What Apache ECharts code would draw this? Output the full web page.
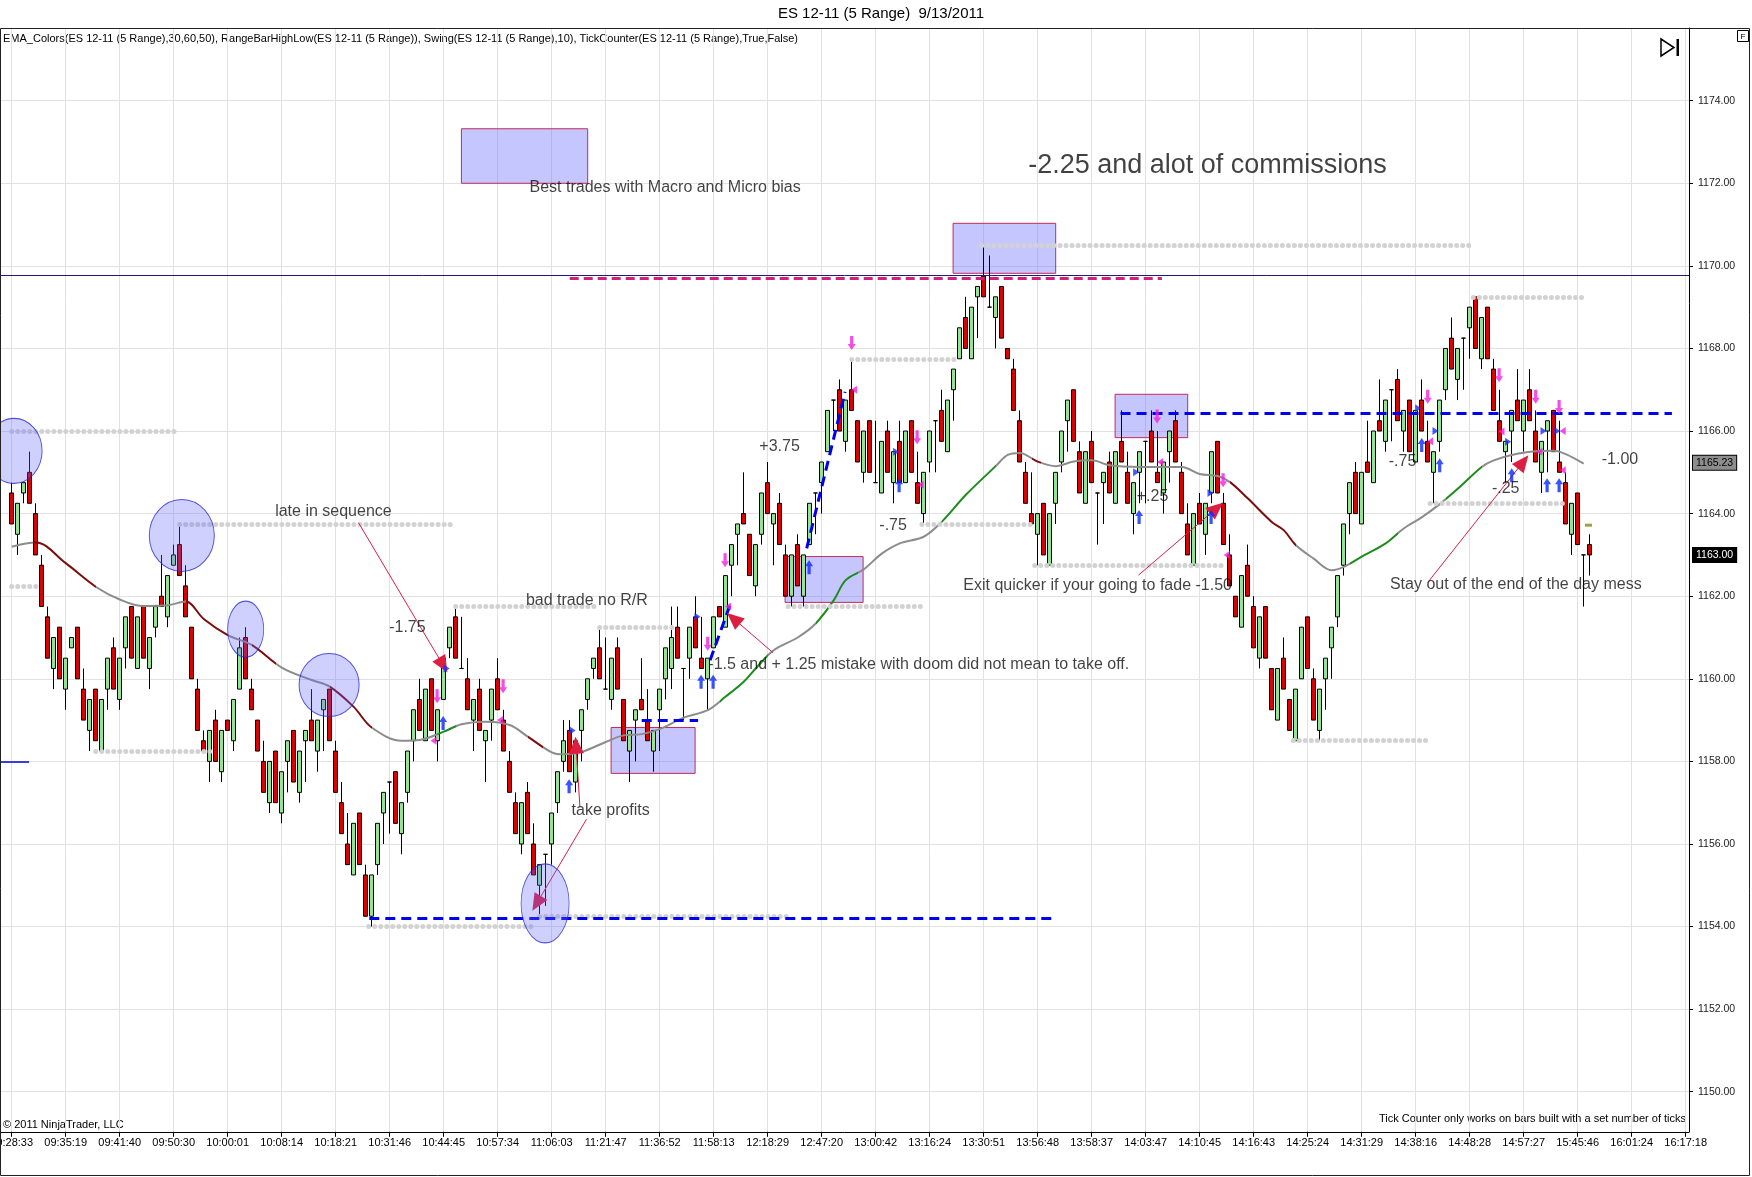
<!DOCTYPE html>
<html><head><meta charset="utf-8">
<script src="https://cdn.jsdelivr.net/npm/echarts/dist/echarts.min.js"></script>
<style>html,body{margin:0;padding:0;background:#fff}#c{width:1752px;height:1177px}</style>
</head><body><div id="c"></div>
<script>
const FONT = "'Liberation Sans', Arial, sans-serif";
const titleText = 'ES 12-11 (5 Range)  9/13/2011';
const indicatorText = 'EMA_Colors(ES 12-11 (5 Range),30,60,50), RangeBarHighLow(ES 12-11 (5 Range)), Swing(ES 12-11 (5 Range),10), TickCounter(ES 12-11 (5 Range),True,False)';
const timeLabels = ['09:28:33','09:35:19','09:41:40','09:50:30','10:00:01','10:08:14','10:18:21','10:31:46','10:44:45','10:57:34','11:06:03','11:21:47','11:36:52','11:58:13','12:18:29','12:47:20','13:00:42','13:16:24','13:30:51','13:56:48','13:58:37','14:03:47','14:10:45','14:16:43','14:25:24','14:31:29','14:38:16','14:48:28','14:57:27','15:45:46','16:01:24','16:17:18'];
const barsPerLabel = 9;
const priceTicks = [1150,1152,1154,1156,1158,1160,1162,1164,1166,1168,1170,1172,1174];

const opens = [
1164.5,1163.5,1164.5,1165.0,1164.0,1162.75,1161.5,1160.25,1161.25,1159.75,
1160.75,1161.25,1159.75,1158.75,1159.75,1158.25,1159.75,1160.75,1159.5,1160.75,
1161.75,1160.25,1161.75,1160.25,1161.25,1162.0,1161.5,1162.75,1163.25,1162.25,
1161.25,1159.75,1158.5,1158.0,1159.0,1157.75,1159.0,1158.5,1159.75,1161.0,
1159.75,1159.0,1158.0,1157.0,1158.25,1156.75,1158.0,1158.75,1157.25,1158.5,
1159.0,1158.25,1159.25,1159.75,1158.25,1157.0,1156.0,1155.25,1156.75,1155.25,
1154.25,1155.5,1156.75,1157.5,1157.75,1156.25,1157.25,1158.5,1159.5,1158.5,
1160.0,1158.5,1159.5,1160.75,1161.5,1160.25,1160.0,1159.0,1159.75,1158.5,
1159.0,1160.0,1159.0,1158.0,1157.0,1156.0,1157.25,1156.0,1155.0,1155.75,
1156.0,1157.0,1158.0,1158.75,1157.5,1158.75,1159.5,1160.25,1160.75,1159.75,
1159.5,1160.75,1159.5,1158.25,1159.0,1159.5,1159.0,1158.25,1159.25,1160.0,
1160.25,1161.25,1160.25,1160.5,1161.5,1160.5,1160.0,1160.75,1161.75,1161.25,
1162.75,1163.5,1164.0,1163.5,1162.25,1163.5,1164.75,1163.75,1164.25,1163.0,
1162.0,1163.25,1162.0,1163.25,1164.5,1164.75,1165.5,1166.75,1167.0,1165.75,
1167.0,1166.25,1165.0,1166.25,1164.75,1164.5,1166.0,1164.75,1165.75,1164.75,
1166.25,1164.75,1164.0,1165.25,1166.25,1166.5,1165.5,1167.0,1167.75,1168.75,
1167.75,1169.25,1169.75,1169.0,1168.75,1169.5,1168.0,1167.5,1166.25,1165.0,
1164.0,1163.5,1164.25,1162.75,1164.25,1165.25,1166.25,1167.0,1165.5,1164.25,
1165.75,1164.5,1164.75,1165.25,1164.25,1165.75,1165.0,1164.0,1165.0,1165.75,
1166.0,1165.0,1164.5,1165.5,1166.25,1165.0,1163.75,1162.75,1164.25,1163.5,
1164.5,1165.75,1164.25,1163.0,1162.0,1161.25,1162.75,1161.75,1160.5,1161.75,
1160.25,1159.0,1160.5,1159.5,1158.5,1160.0,1161.5,1160.0,1158.75,1160.0,
1160.75,1161.5,1162.75,1164.0,1165.0,1163.75,1165.25,1164.75,1166.25,1165.75,
1167.0,1167.25,1166.0,1166.75,1165.25,1166.75,1165.75,1165.0,1165.75,1167.0,
1168.25,1167.25,1168.25,1168.5,1169.25,1167.75,1169.0,1167.5,1166.25,1165.5,
1166.0,1166.75,1166.0,1167.0,1166.0,1165.0,1166.0,1166.5,1165.25,1164.75,
1163.5,1164.5,1163.0,1163.25];
const closes = [
1163.75,1164.25,1164.75,1164.25,1163.0,1161.75,1160.5,1161.0,1160.0,1160.5,
1161.0,1160.0,1159.0,1159.5,1158.5,1159.5,1160.5,1159.75,1160.5,1161.5,
1160.5,1161.5,1160.5,1161.0,1161.75,1161.75,1162.5,1163.0,1162.5,1161.5,
1160.0,1158.75,1158.25,1158.75,1158.0,1158.75,1158.75,1159.5,1160.75,1160.0,
1159.25,1158.25,1157.25,1158.0,1157.0,1157.75,1158.5,1157.5,1158.25,1158.75,
1158.5,1159.0,1159.5,1158.5,1157.25,1156.25,1155.5,1156.5,1155.5,1154.25,
1155.25,1156.5,1157.25,1157.5,1156.5,1157.0,1158.25,1159.25,1158.75,1159.75,
1158.75,1159.25,1160.5,1161.25,1160.5,1160.25,1159.25,1159.5,1158.75,1158.75,
1159.75,1159.25,1158.25,1157.25,1156.25,1157.0,1156.25,1155.25,1155.5,1155.75,
1156.75,1157.75,1158.5,1157.75,1158.5,1159.25,1160.0,1160.5,1160.0,1159.75,
1160.5,1159.75,1158.5,1158.75,1159.25,1159.25,1158.5,1158.75,1159.75,1160.75,
1161.0,1160.5,1160.25,1161.25,1160.75,1160.25,1160.5,1161.5,1161.5,1162.5,
1163.25,1163.75,1163.75,1162.5,1163.25,1164.5,1164.0,1164.0,1163.25,1162.0,
1163.0,1162.25,1163.0,1164.25,1164.5,1165.25,1166.5,1166.75,1166.0,1166.75,
1166.5,1165.25,1166.0,1165.0,1164.75,1165.75,1165.0,1165.5,1164.75,1166.0,
1165.0,1164.25,1165.0,1166.0,1166.25,1165.75,1166.75,1167.5,1168.5,1168.0,
1169.0,1169.5,1169.25,1169.0,1169.25,1168.25,1167.75,1166.5,1165.25,1164.25,
1163.75,1164.0,1163.0,1164.0,1165.0,1166.0,1166.75,1165.75,1164.5,1165.5,
1164.75,1164.5,1165.0,1164.5,1165.5,1165.25,1164.25,1164.75,1165.5,1165.75,
1165.25,1164.75,1165.25,1166.0,1165.25,1164.0,1163.0,1164.0,1163.75,1164.25,
1165.5,1164.5,1163.25,1162.25,1161.5,1162.5,1162.0,1160.75,1161.5,1160.5,
1159.25,1160.25,1159.75,1158.75,1159.75,1161.25,1160.25,1159.0,1159.75,1160.5,
1161.25,1162.5,1163.75,1164.75,1164.0,1165.0,1165.0,1166.0,1166.0,1166.75,
1167.0,1166.25,1166.5,1165.5,1166.5,1166.0,1165.25,1165.5,1166.75,1168.0,
1167.5,1168.0,1168.25,1169.0,1168.0,1168.75,1167.75,1166.5,1165.75,1165.75,
1166.5,1166.25,1166.75,1166.25,1165.25,1165.75,1166.25,1165.5,1165.0,1163.75,
1164.25,1163.25,1163.0,1163.0];
const lows = [
1163.75,1163.0,1164.25,1164.25,1163.0,1161.75,1160.5,1159.75,1160.0,1159.25,
1160.75,1160.0,1159.0,1158.25,1158.5,1158.25,1159.25,1159.75,1159.25,1160.25,
1160.5,1160.25,1160.5,1159.75,1161.0,1161.75,1161.25,1162.75,1162.5,1161.5,
1160.0,1158.75,1158.25,1157.5,1158.0,1157.5,1158.75,1158.25,1159.75,1160.0,
1159.25,1158.25,1157.25,1156.75,1157.0,1156.5,1157.25,1157.5,1157.0,1157.5,
1158.5,1157.75,1158.25,1158.5,1157.25,1156.25,1155.5,1155.25,1155.5,1154.25,
1154.0,1155.25,1156.0,1156.25,1156.5,1155.75,1157.0,1158.0,1158.75,1158.5,
1158.75,1158.0,1159.5,1160.5,1160.5,1160.25,1159.25,1158.25,1158.75,1157.5,
1158.5,1159.25,1158.25,1157.25,1156.25,1155.75,1156.25,1155.25,1154.25,1154.5,
1155.5,1156.75,1157.75,1157.75,1157.25,1158.0,1159.25,1160.0,1160.0,1159.75,
1159.25,1159.75,1158.5,1157.5,1158.0,1159.25,1158.5,1157.75,1158.25,1159.5,
1159.75,1160.5,1159.0,1160.0,1160.75,1160.25,1159.25,1160.75,1161.5,1161.25,
1162.0,1162.75,1163.75,1162.5,1162.0,1163.25,1164.0,1162.75,1163.25,1162.0,
1161.75,1162.25,1161.75,1163.25,1163.5,1164.0,1165.5,1166.0,1166.0,1165.5,
1166.5,1165.25,1164.75,1165.0,1164.75,1164.5,1165.0,1164.25,1164.75,1164.75,
1165.0,1164.25,1163.75,1165.0,1165.0,1165.75,1165.5,1166.25,1167.75,1168.0,
1167.75,1168.25,1169.25,1169.0,1168.0,1168.25,1167.75,1166.5,1165.25,1164.25,
1163.75,1162.75,1163.0,1162.75,1163.75,1165.0,1165.5,1165.75,1164.5,1164.25,
1164.75,1163.25,1163.75,1164.5,1164.25,1165.25,1164.25,1163.5,1164.25,1164.25,
1165.25,1164.75,1164.0,1164.75,1165.25,1164.0,1163.0,1162.75,1163.75,1163.0,
1164.25,1164.5,1163.25,1162.25,1161.5,1161.25,1162.0,1160.75,1160.25,1160.5,
1159.25,1159.0,1159.75,1158.75,1158.5,1160.0,1160.25,1159.0,1158.5,1159.25,
1160.0,1161.25,1162.5,1163.5,1164.0,1163.75,1165.0,1164.75,1166.0,1165.5,
1165.75,1166.25,1165.5,1165.5,1165.25,1166.0,1165.25,1164.25,1165.5,1166.75,
1167.5,1166.75,1167.0,1167.75,1168.0,1167.5,1167.75,1166.5,1165.75,1164.75,
1165.25,1166.25,1165.5,1166.25,1165.25,1164.5,1165.0,1165.5,1165.0,1163.75,
1163.0,1163.25,1161.75,1162.5];
const highs = [
1164.75,1164.25,1164.75,1165.5,1164.25,1163.0,1161.75,1161.0,1161.25,1160.5,
1161.0,1161.25,1160.25,1159.5,1159.75,1159.5,1160.5,1161.0,1160.5,1161.5,
1161.75,1161.5,1161.75,1161.0,1161.75,1163.0,1162.5,1163.25,1163.75,1162.75,
1161.25,1160.0,1158.75,1158.75,1159.25,1158.75,1159.0,1159.5,1161.0,1161.25,
1160.0,1159.0,1158.5,1158.0,1158.25,1157.75,1158.5,1158.75,1158.25,1158.75,
1159.75,1159.0,1159.5,1159.75,1158.5,1157.5,1156.75,1156.5,1156.75,1155.5,
1155.25,1156.5,1157.25,1157.5,1157.75,1157.0,1158.25,1159.25,1160.0,1159.75,
1160.0,1159.25,1160.5,1161.25,1161.75,1161.5,1160.5,1159.5,1160.0,1158.75,
1159.75,1160.5,1159.25,1158.25,1157.25,1157.0,1157.5,1156.5,1155.5,1155.75,
1156.75,1157.75,1159.0,1159.0,1158.5,1159.25,1160.0,1160.5,1161.25,1161.0,
1160.5,1161.0,1159.5,1158.75,1159.25,1160.5,1159.75,1158.75,1159.75,1160.75,
1161.75,1161.75,1160.25,1161.25,1162.0,1161.5,1160.5,1161.5,1161.75,1162.5,
1163.25,1163.75,1165.0,1163.5,1163.25,1164.5,1165.25,1164.0,1164.5,1163.25,
1163.0,1163.5,1163.0,1164.25,1164.5,1165.25,1166.5,1166.75,1167.25,1166.75,
1167.75,1166.25,1166.0,1166.25,1166.25,1165.75,1166.25,1165.5,1166.25,1166.0,
1166.25,1165.5,1165.0,1166.0,1166.25,1167.0,1166.75,1167.5,1168.5,1169.25,
1169.0,1169.5,1170.5,1170.25,1169.25,1169.5,1168.0,1167.75,1166.5,1165.25,
1165.0,1164.0,1164.25,1164.0,1165.0,1166.0,1166.75,1167.0,1165.75,1165.5,
1166.0,1164.5,1165.0,1165.5,1165.5,1166.5,1165.5,1164.75,1165.5,1165.75,
1166.5,1166.0,1165.25,1166.0,1166.5,1165.25,1164.25,1164.0,1164.5,1164.25,
1165.5,1165.75,1164.5,1163.5,1162.0,1162.5,1163.25,1162.0,1161.5,1161.75,
1160.25,1160.25,1161.0,1159.5,1159.75,1161.25,1161.5,1160.25,1159.75,1160.5,
1161.25,1162.5,1163.75,1164.75,1165.25,1165.0,1166.25,1166.0,1167.25,1166.75,
1167.0,1167.5,1166.5,1166.75,1166.5,1167.25,1166.25,1165.5,1166.75,1168.0,
1168.75,1168.0,1168.25,1169.0,1169.25,1168.75,1169.0,1167.75,1167.0,1165.75,
1166.5,1167.5,1166.75,1167.5,1166.5,1165.75,1166.25,1166.5,1166.25,1165.0,
1164.25,1164.5,1163.0,1163.5];

// EMA values at selected bars
const emaBar = [0,4,9,14,18,22,26,29,32,36,40,45,50,53,57,60,65,68,72,75,79,83,86,90,92,95,99,102,105,108,112,116,119,122,124,127,131,134,137,139,142,145,148,152,155,159,164,166,168,171,174,177,180,183,188,195,198,201,203,206,210,212,214,217,220,222,225,229,232,235,238,241,245,247,250,254,257,259,262];
const emaVal = [1163.2,1163.3,1162.8,1162.23,1161.92,1161.76,1161.78,1161.87,1161.45,1161.06,1160.82,1160.27,1159.97,1159.81,1159.32,1158.82,1158.5,1158.52,1158.72,1158.9,1158.96,1158.88,1158.6,1158.22,1158.17,1158.23,1158.47,1158.63,1158.66,1158.78,1159.06,1159.24,1159.57,1159.93,1160.25,1160.69,1161.0,1161.34,1161.9,1162.39,1162.65,1163.03,1163.28,1163.44,1163.8,1164.45,1165.15,1165.42,1165.47,1165.26,1165.15,1165.26,1165.29,1165.17,1165.13,1165.13,1164.96,1164.91,1164.77,1164.37,1163.8,1163.6,1163.24,1162.91,1162.63,1162.71,1162.96,1163.28,1163.64,1163.91,1164.23,1164.6,1165.13,1165.29,1165.42,1165.51,1165.52,1165.44,1165.21];
const emaBreaks = [-2,3.6,14,29,36,40,44,53,60,71,74,86,88.5,118,126,134,141,155,164,170,171.5,203,214,223,231,239,245,300];
const emaKinds = ['flat','down','flat','down','flat','down','flat','down','flat','up','flat','down','flat','up','flat','up','flat','up','flat','down','flat','down','flat','up','flat','up','flat'];

// swing / range high-low dotted levels
const swingLevel = [1166.0,1162.25,1163.75,1158.25,1161.75,1161.25,1154.0,1154.25,1161.75,1167.75,1170.5,1163.75,1162.75,1158.5,1164.25,1169.25];
const swingFrom  = [0,0,28,14,74,98,59.5,88,129.4,140,161.7,151.7,170.5,213.6,236.4,243.6];
const swingTo    = [27.5,4.2,73.4,33.5,97.5,110.5,87.5,129.4,151.7,157.5,243.5,170.3,202.5,236.4,258.6,262.5];

// drawn rectangles
const rectX1 = [74.95,99.9,128.9,156.9,183.9];
const rectX2 = [96.0,113.9,141.9,174.0,196.0];
const rectTop = [1173.32,1158.82,1162.96,1171.03,1166.89];
const rectBot = [1172.0,1157.71,1161.85,1169.82,1165.84];

// drawn ellipses
const ellX = [0.4,28.35,39.0,52.9,88.9];
const ellY = [1165.52,1163.47,1161.2,1159.85,1154.56];
const ellW = [56,65,36,60,48];
const ellH = [65,72,56,63,79];

// dashed drawing lines
const blueDashFromX = [59.6,184.8,105,116.4,132.5];
const blueDashFromY = [1154.19,1166.42,1159.0,1160.45,1163.16];
const blueDashToX   = [173.4,276.7,114.4,119.7,138.9];
const blueDashToY   = [1154.19,1166.42,1159.0,1161.78,1166.95];
const pinkDash = [93,1169.7,191.7,1169.7];
const navyLevel = 1169.78;

// annotation arrows (start -> head)
const arrFromX = [57.8,95.8,94.7,126.9,187.8,236.1];
const arrFromY = [1163.78,1156.6,1156.9,1160.63,1162.51,1162.35];
const arrToX   = [71.9,87.5,94.05,120.3,200.8,251.9];
const arrToY   = [1160.33,1154.56,1158.39,1161.46,1164.13,1165.25];

// trade markers
const upX = [71.9,92.9,114.9,116.9,132.9,147.9,187.9,199.9,235,238,250,255.9,257.9];
const upY = [1158.93,1157.4,1159.93,1159.93,1162.7,1164.69,1163.92,1163.92,1165.66,1165.17,1164.93,1164.69,1164.69];
const downX = [70.9,81.9,116.0,118.9,140.0,150.9,190.9,201.9,236,247.9,254,257.9];
const downY = [1159.58,1159.82,1160.85,1162.87,1168.13,1165.85,1166.35,1164.81,1166.83,1167.35,1166.83,1166.58];
const rTriX = [72.5,93.5,114.3,147.4,187.4,199.8,234.4,237.3,249.4,255.3,257.6];
const rTriY = [1160.25,1158.75,1161.5,1165.5,1165.0,1164.5,1166.55,1166.0,1165.74,1166.0,1166.0];
const lTriX = [70.3,81.4,119.4,140.4,151.5,191.4,202.5,236.4,248.3,254.6,258.5,258.5];
const lTriY = [1158.5,1159.0,1161.75,1167.0,1164.7,1165.25,1163.0,1165.75,1165.99,1165.5,1166.0,1165.05];

// text notes
const noteText = ['Best trades with Macro and Micro bias','-2.25 and alot of commissions','late in sequence','-1.75','bad trade no R/R','+3.75','-.75','-1.5 and + 1.25 mistake with doom did not mean to take off.','take profits','Exit quicker if your going to fade -1.50','+.25','-.75','-.25','-1.00','Stay out of the end of the day mess'];
const noteX = [86.3,169.4,43.9,62.9,85.7,124.6,144.6,116.1,93.3,158.6,187.5,229.5,246.7,265.0,229.7];
const noteY = [1171.89,1172.43,1164.04,1161.23,1161.89,1165.62,1163.72,1160.35,1156.82,1162.26,1164.41,1165.25,1164.61,1165.3,1162.27];
const noteSize = [16,27,16,16,16,16,16,16,16,16,16,16,16,16,16];

const flagVal = [1165.23,1163.00];

const xTicks = timeLabels.map((_, k) => k * barsPerLabel);
const kindColor = {flat:'#8c8c8c', down:'#7d0c0c', up:'#1c8c1c'};

const candleData = opens.map((o, i) => [i, o, closes[i], lows[i], highs[i]]);
const emaData = emaBar.map((b, k) => [b, emaVal[k]]);

const chart = echarts.init(document.getElementById('c'), null, {renderer:'canvas'});
const noLabel = {show:false};
const option = {
  animation:false,
  backgroundColor:'#fff',
  textStyle:{fontFamily:FONT},
  grid:{left:0, right:63, top:28, bottom:45.2, containLabel:false, outerBoundsMode:'none'},
  xAxis:{type:'value', min:-1.95, max:279.55,
    axisLine:{show:true, onZero:false, lineStyle:{color:'#000', width:1}},
    axisTick:{show:true, customValues:xTicks, length:5, lineStyle:{color:'#000'}},
    axisLabel:{customValues:xTicks, formatter:v => timeLabels[Math.round(v / barsPerLabel)] || '', fontSize:11, color:'#000', margin:6, fontFamily:FONT, hideOverlap:false},
    splitLine:{show:true, lineStyle:{color:'#e2e2e2', width:1}},
    minorTick:{show:false}, minorSplitLine:{show:false}},
  yAxis:{type:'value', position:'right', min:1149.03, max:1175.76,
    axisLine:{show:true, onZero:false, lineStyle:{color:'#000', width:1}},
    axisTick:{show:true, customValues:priceTicks, length:4, lineStyle:{color:'#000'}},
    axisLabel:{customValues:priceTicks, formatter:v => v.toFixed(2), fontSize:10.5, color:'#222', margin:9, fontFamily:FONT},
    splitLine:{show:true, lineStyle:{color:'#e2e2e2', width:1}},
    minorTick:{show:false}, minorSplitLine:{show:false}},
  visualMap:[{type:'piecewise', show:false, dimension:0, seriesIndex:1,
    pieces: emaKinds.map((k, j) => ({gte:emaBreaks[j], lt:emaBreaks[j+1], color:kindColor[k]}))}],
  series:[
    { // candles
      type:'candlestick', name:'ES', z:2, barWidth:5, data:candleData,
      itemStyle:{color:'#93e493', color0:'#dc0000', borderColor:'#000', borderColor0:'#000', borderWidth:1},
      markLine:{silent:true, symbol:['none','none'], animation:false,
        lineStyle:{color:'rgba(0,0,0,0)', width:0},
        data:[
          {yAxis:flagVal[0], label:{show:true, position:'end', distance:4, formatter:flagVal[0].toFixed(2), backgroundColor:'#8d8d8d', color:'#000', borderColor:'#000', borderWidth:1, padding:[2,3,1,3], fontSize:10.5, fontFamily:FONT, opacity:1}},
          {yAxis:flagVal[1], label:{show:true, position:'end', distance:4, formatter:flagVal[1].toFixed(2), backgroundColor:'#000', color:'#fff', borderColor:'#000', borderWidth:1, padding:[2,3,1,3], fontSize:10.5, fontFamily:FONT, opacity:1}}
        ]}
    },
    { // EMA
      type:'line', name:'EMA', z:3, data:emaData, smooth:0.35, showSymbol:false, silent:true,
      lineStyle:{width:2}
    },
    { // swing dots
      type:'line', data:[[0,1160]], z:1, showSymbol:false, lineStyle:{opacity:0}, silent:true,
      markLine:{silent:true, symbol:['none','none'], label:noLabel, animation:false,
        lineStyle:{color:'#d2d2d2', width:5, type:[0.01,6], cap:'round'},
        data: swingLevel.map((p, k) => [{coord:[swingFrom[k], p]}, {coord:[swingTo[k], p]}])}
    },
    { // drawing lines
      type:'line', data:[[0,1160]], z:4, showSymbol:false, lineStyle:{opacity:0}, silent:true,
      markLine:{silent:true, symbol:['none','none'], label:noLabel, animation:false,
        data: [
          {yAxis:navyLevel, lineStyle:{color:'#1c1c78', width:1, type:'solid'}},
          [{coord:[pinkDash[0], pinkDash[1]], lineStyle:{color:'#d3207c', width:3, type:[9,5]}}, {coord:[pinkDash[2], pinkDash[3]]}],
          [{coord:[-1.95,1158.0], lineStyle:{color:'#3a3ae8', width:2, type:'solid'}}, {coord:[2.9,1158.0]}]
        ].concat(blueDashFromX.map((x, k) => [{coord:[x, blueDashFromY[k]], lineStyle:{color:'#0000ee', width:3, type:[10,6]}}, {coord:[blueDashToX[k], blueDashToY[k]]}]))}
    },
    { // rectangles
      type:'line', data:[[0,1160]], z:5, showSymbol:false, lineStyle:{opacity:0}, silent:true,
      markArea:{silent:true, animation:false, label:noLabel,
        itemStyle:{color:'rgba(105,105,255,0.38)', borderColor:'#c8285a', borderWidth:1},
        data: rectX1.map((x, k) => [{coord:[x, rectTop[k]]}, {coord:[rectX2[k], rectBot[k]]}])}
    },
    { // ellipses
      type:'scatter', z:5, silent:true, clip:false,
      data: ellX.map((x, k) => [x, ellY[k], k]),
      symbol:'circle', symbolSize:(v) => [ellW[v[2]], ellH[v[2]]],
      itemStyle:{color:'rgba(100,100,255,0.38)', borderColor:'#2a2ad6', borderWidth:1}
    },
    { // annotation arrows
      type:'line', data:[[0,1160]], z:6, showSymbol:false, lineStyle:{opacity:0}, silent:true,
      markLine:{silent:true, symbol:['none','triangle'], symbolSize:[15,17], label:noLabel, animation:false,
        lineStyle:{color:'#dc1e40', width:1, type:'solid'},
        data: arrFromX.map((x, k) => [{coord:[x, arrFromY[k]]}, {coord:[arrToX[k], arrToY[k]]}])}
    },
    { type:'scatter', z:6, silent:true, data: upX.map((x, k) => [x, upY[k]]),
      symbol:'path://M4,0 L8,6 L5.6,6 L5.6,14 L2.4,14 L2.4,6 L0,6 Z', symbolSize:[8,14], itemStyle:{color:'#0a28ff'} },
    { type:'scatter', z:6, silent:true, data: downX.map((x, k) => [x, downY[k]]),
      symbol:'path://M2.4,0 L5.6,0 L5.6,8 L8,8 L4,14 L0,8 L2.4,8 Z', symbolSize:[8,14], itemStyle:{color:'#f41ee0'} },
    { type:'scatter', z:6, silent:true, data: rTriX.map((x, k) => [x, rTriY[k]]),
      symbol:'path://M0,0 L6,4 L0,8 Z', symbolSize:[6,8], itemStyle:{color:'#1830ff'} },
    { type:'scatter', z:6, silent:true, data: lTriX.map((x, k) => [x, lTriY[k]]),
      symbol:'path://M6,0 L0,4 L6,8 Z', symbolSize:[6,8], itemStyle:{color:'#f41ee0'} },
    { type:'scatter', z:6, silent:true, data:[[262.8,1163.72]], symbol:'rect', symbolSize:[7,3], itemStyle:{color:'#8a8a10'} },
    { // notes
      type:'scatter', z:7, silent:true, symbolSize:0.1, itemStyle:{color:'rgba(0,0,0,0)'},
      data: noteX.map((x, k) => ({value:[x, noteY[k]], label:{formatter:noteText[k], fontSize:noteSize[k]}})),
      label:{show:true, position:'right', distance:0, color:'#111', fontFamily:FONT}
    }
  ],
  graphic:[
    {type:'rect', silent:true, z:100, shape:{x:0.5, y:28.5, width:1749, height:1147}, style:{fill:'none', stroke:'#222', lineWidth:1}},
    {type:'text', silent:true, x:881, y:14, style:{text:titleText, fontSize:15, fontFamily:FONT, fill:'#000', align:'center', verticalAlign:'middle'}},
    {type:'text', silent:true, x:3, y:39, style:{text:indicatorText, fontSize:11, fontFamily:FONT, fill:'#000', align:'left', verticalAlign:'middle'}},
    {type:'text', silent:true, x:3, y:1125, style:{text:'\u00a9 2011 NinjaTrader, LLC', fontSize:11, fontFamily:FONT, fill:'#000', align:'left', verticalAlign:'middle'}},
    {type:'text', silent:true, x:1686, y:1118.5, style:{text:'Tick Counter only works on bars built with a set number of ticks', fontSize:11, fontFamily:FONT, fill:'#000', align:'right', verticalAlign:'middle'}},
    {type:'polygon', silent:true, shape:{points:[[1661,39],[1661,56],[1674,47.5]]}, style:{fill:'none', stroke:'#000', lineWidth:1.5}},
    {type:'rect', silent:true, shape:{x:1676.5, y:39, width:2.5, height:17}, style:{fill:'#000'}},
    {type:'rect', silent:true, shape:{x:1737.5, y:30.5, width:11, height:11}, style:{fill:'#fff', stroke:'#000', lineWidth:1}},
    {type:'text', silent:true, x:1743, y:36.5, style:{text:'F', fontSize:8, fontFamily:FONT, fill:'#000', align:'center', verticalAlign:'middle'}}
  ]
};
chart.setOption(option);
</script></body></html>
